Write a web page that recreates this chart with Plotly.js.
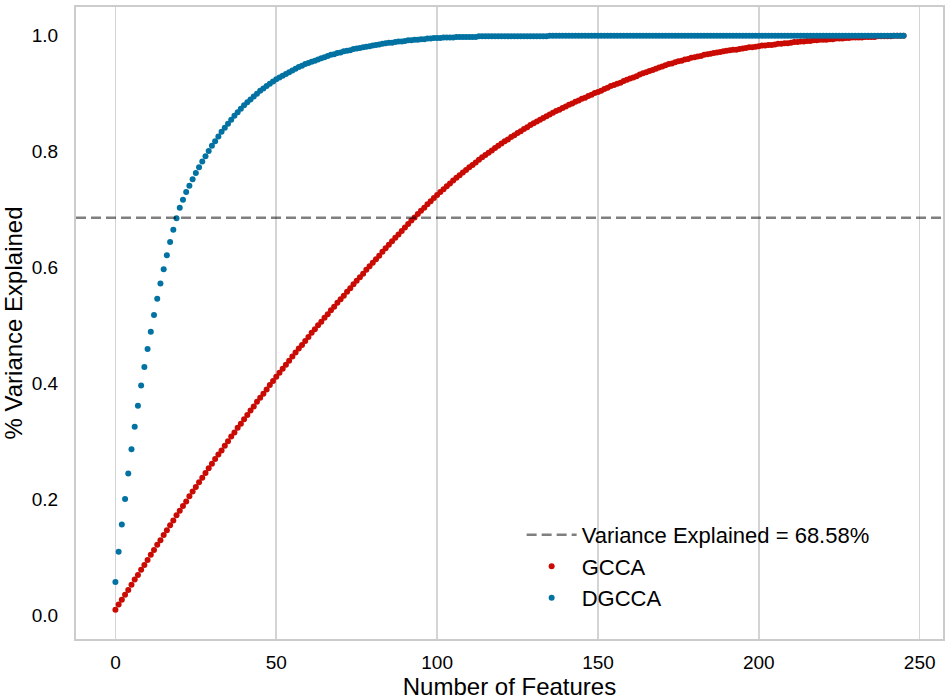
<!DOCTYPE html>
<html>
<head>
<meta charset="utf-8">
<script src="https://cdn.plot.ly/plotly-3.0.1.min.js"></script>
<style>html,body{margin:0;padding:0;background:#fff;}#chart{width:951px;height:700px;}</style>
</head>
<body>
<div id="chart"></div>
<script>
// Cumulative % variance explained per number of features (index = feature count, 0..245)
const gcca = [
0.009,0.018,0.026,0.035,0.043,0.052,0.061,0.069,0.078,0.086,
0.095,0.104,0.112,0.121,0.129,0.138,0.146,0.155,0.163,0.172,
0.180,0.188,0.196,0.205,0.213,0.221,0.229,0.237,0.245,0.253,
0.261,0.269,0.277,0.284,0.292,0.300,0.308,0.315,0.323,0.330,
0.338,0.345,0.353,0.360,0.368,0.375,0.382,0.389,0.397,0.404,
0.411,0.418,0.425,0.432,0.439,0.446,0.453,0.460,0.466,0.473,
0.480,0.487,0.493,0.500,0.506,0.513,0.519,0.526,0.532,0.539,
0.545,0.551,0.558,0.564,0.571,0.577,0.583,0.589,0.596,0.602,
0.608,0.614,0.620,0.627,0.633,0.639,0.645,0.651,0.657,0.663,
0.669,0.675,0.681,0.686,0.692,0.698,0.703,0.709,0.714,0.720,
0.725,0.730,0.735,0.740,0.745,0.750,0.755,0.759,0.764,0.768,
0.773,0.777,0.781,0.786,0.790,0.794,0.798,0.802,0.806,0.810,
0.814,0.818,0.821,0.825,0.828,0.832,0.835,0.839,0.842,0.846,
0.849,0.852,0.855,0.858,0.861,0.864,0.867,0.870,0.872,0.875,
0.878,0.881,0.883,0.886,0.888,0.891,0.893,0.896,0.898,0.901,
0.903,0.905,0.908,0.910,0.913,0.915,0.917,0.919,0.922,0.924,
0.926,0.928,0.930,0.933,0.935,0.937,0.939,0.941,0.943,0.945,
0.947,0.949,0.951,0.952,0.954,0.956,0.957,0.959,0.960,0.962,
0.963,0.964,0.965,0.967,0.968,0.969,0.970,0.971,0.972,0.973,
0.974,0.975,0.976,0.976,0.977,0.978,0.979,0.980,0.980,0.981,
0.982,0.983,0.983,0.984,0.984,0.985,0.986,0.986,0.987,0.987,
0.988,0.989,0.989,0.990,0.990,0.991,0.991,0.992,0.992,0.993,
0.993,0.993,0.994,0.994,0.995,0.995,0.995,0.996,0.996,0.997,
0.997,0.997,0.997,0.998,0.998,0.998,0.998,0.999,0.999,0.999,
0.999,0.999,1.000,1.000,1.000,1.000
];
const dgcca = [
0.057,0.109,0.156,0.200,0.244,0.286,0.325,0.361,0.396,0.428,
0.459,0.489,0.518,0.546,0.572,0.597,0.621,0.644,0.665,0.685,
0.703,0.717,0.730,0.741,0.752,0.763,0.773,0.783,0.792,0.801,
0.810,0.818,0.826,0.834,0.841,0.848,0.855,0.862,0.868,0.874,
0.880,0.885,0.890,0.895,0.900,0.905,0.909,0.913,0.917,0.921,
0.925,0.928,0.931,0.934,0.937,0.940,0.943,0.946,0.948,0.951,
0.953,0.955,0.957,0.959,0.961,0.963,0.965,0.967,0.968,0.970,
0.971,0.973,0.974,0.975,0.977,0.978,0.979,0.980,0.981,0.982,
0.983,0.984,0.985,0.986,0.987,0.988,0.988,0.989,0.990,0.990,
0.991,0.992,0.992,0.993,0.993,0.994,0.994,0.995,0.995,0.996,
0.996,0.996,0.997,0.997,0.997,0.997,0.998,0.998,0.998,0.998,
0.998,0.998,0.998,0.999,0.999,0.999,0.999,0.999,0.999,0.999,
0.999,0.999,0.999,0.999,0.999,0.999,0.999,0.999,0.999,0.999,
0.999,0.999,0.999,0.999,0.999,1.000,1.000,1.000,1.000,1.000,
1.000,1.000,1.000,1.000,1.000,1.000,1.000,1.000,1.000,1.000,
1.000,1.000,1.000,1.000,1.000,1.000,1.000,1.000,1.000,1.000,
1.000,1.000,1.000,1.000,1.000,1.000,1.000,1.000,1.000,1.000,
1.000,1.000,1.000,1.000,1.000,1.000,1.000,1.000,1.000,1.000,
1.000,1.000,1.000,1.000,1.000,1.000,1.000,1.000,1.000,1.000,
1.000,1.000,1.000,1.000,1.000,1.000,1.000,1.000,1.000,1.000,
1.000,1.000,1.000,1.000,1.000,1.000,1.000,1.000,1.000,1.000,
1.000,1.000,1.000,1.000,1.000,1.000,1.000,1.000,1.000,1.000,
1.000,1.000,1.000,1.000,1.000,1.000,1.000,1.000,1.000,1.000,
1.000,1.000,1.000,1.000,1.000,1.000,1.000,1.000,1.000,1.000,
1.000,1.000,1.000,1.000,1.000,1.000
];
const varianceThreshold = 0.6858;
const thresholdLabel = 'Variance Explained = 68.58%';
const xTicks = [0, 50, 100, 150, 200, 250];
const yTicks = [0.0, 0.2, 0.4, 0.6, 0.8, 1.0];

const FONT = 'Liberation Sans, Arial, Helvetica, sans-serif';
const RED = '#ca0b03', BLUE = '#0272a2';

const traces = [
  {type:'scatter', mode:'markers', name:'GCCA', y:gcca, legendrank:2,
   marker:{color:RED, size:6, line:{width:0}}},
  {type:'scatter', mode:'markers', name:'DGCCA', y:dgcca, legendrank:3,
   marker:{color:BLUE, size:6, line:{width:0}}},
  {type:'scatter', mode:'lines', name:thresholdLabel, x:[null], y:[null], legendrank:1,
   line:{color:'rgba(0,0,0,0.5)', width:2.5, dash:'10px,5px'}}
];

const layout = {
  width:951, height:700,
  margin:{l:76, r:8, t:7, b:61},
  paper_bgcolor:'#fff', plot_bgcolor:'#fff',
  font:{family:FONT, color:'#000'},
  showlegend:true,
  legend:{x:0.514, xanchor:'left', y:0.198, yanchor:'top', bgcolor:'rgba(0,0,0,0)',
          itemwidth:50, font:{size:22, family:FONT, color:'#000'}},
  xaxis:{range:[-12.25, 257.25], tickvals:xTicks, ticktext:xTicks.map(String),
         showgrid:true, gridcolor:'#d4d4d4', gridwidth:1.6, zeroline:false,
         showline:true, linecolor:'#cccccc', linewidth:2, mirror:true,
         ticks:'', ticklabelstandoff:5, tickfont:{size:19, family:FONT, color:'#000'},
         title:{text:'Number of Features', font:{size:24, family:FONT, color:'#000'}, standoff:11}},
  yaxis:{range:[-0.0416, 1.0496], tickvals:yTicks, ticktext:yTicks.map(v=>v.toFixed(1)),
         showgrid:false, zeroline:false,
         showline:true, linecolor:'#cccccc', linewidth:2, mirror:true,
         ticks:'', ticklabelstandoff:12, tickfont:{size:19, family:FONT, color:'#000'},
         title:{text:'% Variance Explained', font:{size:24, family:FONT, color:'#000'}, standoff:12}},
  shapes:[{type:'line', xref:'paper', x0:0, x1:1, yref:'y', y0:varianceThreshold, y1:varianceThreshold,
           layer:'above', line:{color:'rgba(0,0,0,0.5)', width:2.5, dash:'10px,5px'}}]
};

Plotly.newPlot('chart', traces, layout, {displayModeBar:false, staticPlot:true});
</script>
</body>
</html>
